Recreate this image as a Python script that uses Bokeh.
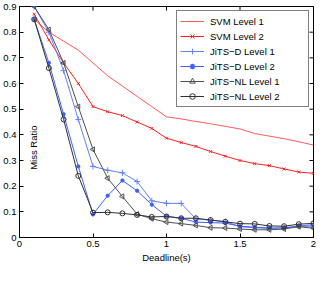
import math
from bokeh.plotting import figure
from bokeh.models import FixedTicker, Label, Range1d
from bokeh.embed import file_html
from bokeh.resources import INLINE

deadline = [0.1, 0.2, 0.3, 0.4, 0.5, 0.6, 0.7, 0.8, 0.9, 1.0,
            1.1, 1.2, 1.3, 1.4, 1.5, 1.6, 1.7, 1.8, 1.9, 2.0]
svm_l1 = [0.85, 0.80, 0.765, 0.73, 0.68, 0.63, 0.59, 0.55, 0.51, 0.47,
          0.462, 0.452, 0.443, 0.433, 0.423, 0.405, 0.395, 0.385, 0.373, 0.36]
svm_l2 = [0.87, 0.77, 0.68, 0.60, 0.51, 0.49, 0.475, 0.45, 0.425, 0.387,
          0.37, 0.355, 0.335, 0.317, 0.30, 0.288, 0.28, 0.267, 0.255, 0.25]
jitsd_l1 = [0.90, 0.80, 0.65, 0.46, 0.277, 0.262, 0.252, 0.218, 0.143, 0.133,
            0.133, 0.072, 0.068, 0.062, 0.042, 0.038, 0.035, 0.038, 0.045, 0.05]
jitsd_l2 = [0.85, 0.68, 0.48, 0.277, 0.09, 0.163, 0.222, 0.182, 0.128, 0.083,
            0.075, 0.06, 0.058, 0.056, 0.044, 0.04, 0.037, 0.037, 0.044, 0.044]
jitsnl_l1 = [0.90, 0.81, 0.68, 0.51, 0.343, 0.231, 0.16, 0.091, 0.073, 0.06,
             0.054, 0.047, 0.038, 0.037, 0.033, 0.03, 0.03, 0.033, 0.042, 0.036]
jitsnl_l2 = [0.85, 0.66, 0.46, 0.24, 0.097, 0.098, 0.094, 0.088, 0.08, 0.082,
             0.075, 0.075, 0.068, 0.061, 0.054, 0.053, 0.045, 0.044, 0.052, 0.055]

x_ticks = [0, 0.5, 1, 1.5, 2]
x_tick_labels = ["0", "0.5", "1", "1.5", "2"]
y_ticks = [0, 0.1, 0.2, 0.3, 0.4, 0.5, 0.6, 0.7, 0.8, 0.9]
y_tick_labels = ["0", "0.1", "0.2", "0.3", "0.4", "0.5", "0.6", "0.7", "0.8", "0.9"]

FONT = "Liberation Sans"
FS = "9.5px"
X_MIN, X_MAX = 0, 2
Y_MIN, Y_MAX = 0, 0.9

p = figure(width=317, height=265, output_backend="svg", toolbar_location=None,
           x_range=Range1d(X_MIN, X_MAX), y_range=Range1d(Y_MIN, Y_MAX),
           min_border=0, min_border_right=4, min_border_top=6)
p.xgrid.visible = False
p.ygrid.visible = False
p.outline_line_color = "black"
p.background_fill_color = "white"
p.border_fill_color = "white"

# series
p.line(deadline, svm_l1, line_color="#ff5a5a", line_width=1, legend_label="SVM Level 1")

p.line(deadline, svm_l2, line_color="#ff2020", line_width=1, legend_label="SVM Level 2")
p.scatter(deadline, svm_l2, marker="x", size=4, line_color="#ff2020", legend_label="SVM Level 2")

p.line(deadline, jitsd_l1, line_color="#6080ff", line_width=1, legend_label="JiTS\u2212D Level 1")
p.scatter(deadline, jitsd_l1, marker="cross", size=6, line_color="#6080ff", legend_label="JiTS\u2212D Level 1")

p.line(deadline, jitsd_l2, line_color="#4060ff", line_width=1, legend_label="JiTS\u2212D Level 2")
p.scatter(deadline, jitsd_l2, marker="asterisk", size=4, line_width=1.5, line_color="#4060ff", legend_label="JiTS\u2212D Level 2")

p.line(deadline, jitsnl_l1, line_color="#505050", line_width=1, legend_label="JiTS\u2212NL Level 1")
p.scatter(deadline, jitsnl_l1, marker="triangle", angle=math.pi / 2, size=5, line_color="#505050",
          fill_color=None, legend_label="JiTS\u2212NL Level 1")

p.line(deadline, jitsnl_l2, line_color="#303030", line_width=1, legend_label="JiTS\u2212NL Level 2")
p.scatter(deadline, jitsnl_l2, marker="circle", size=5, line_color="#303030",
          fill_color=None, legend_label="JiTS\u2212NL Level 2")

# inward ticks on the top and right edges (half of each dash is clipped by the frame)
p.scatter([X_MAX] * len(y_ticks), y_ticks, marker="dash", size=8, line_color="black", line_width=1)
p.scatter(x_ticks, [Y_MAX] * len(x_ticks), marker="dash", angle=math.pi / 2, size=8,
          line_color="black", line_width=1)

# axes
def style_axis(ax, ticks, labels):
    ax.ticker = FixedTicker(ticks=ticks)
    ax.major_label_overrides = {t: l for t, l in zip(ticks, labels)}
    ax.major_tick_in = 4
    ax.major_tick_out = 0
    ax.minor_tick_line_color = None
    ax.axis_line_color = "black"
    ax.major_tick_line_color = "black"
    ax.major_label_text_font = FONT
    ax.major_label_text_color = "black"
    ax.major_label_text_font_size = FS
    ax.major_label_standoff = 3

style_axis(p.xaxis[0], x_ticks, x_tick_labels)
style_axis(p.yaxis[0], y_ticks, y_tick_labels)
p.xaxis[0].axis_label = "Deadline(s)"
p.xaxis[0].axis_label_text_font = FONT
p.xaxis[0].axis_label_text_font_size = FS
p.xaxis[0].axis_label_text_font_style = "normal"
p.xaxis[0].axis_label_text_color = "black"
p.xaxis[0].axis_label_standoff = 2

p.add_layout(Label(x=0.097, y=0.35, text="Miss Ratio", angle=math.pi / 2,
                   text_align="center", text_baseline="middle",
                   text_font=FONT, text_font_size=FS, text_color="black"))

lg = p.legend[0]
lg.location = "top_right"
lg.margin = 4
lg.padding = 3
lg.spacing = 1
lg.glyph_width = 24
lg.glyph_height = 14
lg.label_height = 14
lg.label_width = 95
lg.label_standoff = 6
lg.label_text_font = FONT
lg.label_text_font_size = FS
lg.label_text_color = "black"
lg.border_line_color = "black"
lg.border_line_width = 1
lg.background_fill_alpha = 1.0

open("out.html", "w").write(file_html(p, INLINE))
